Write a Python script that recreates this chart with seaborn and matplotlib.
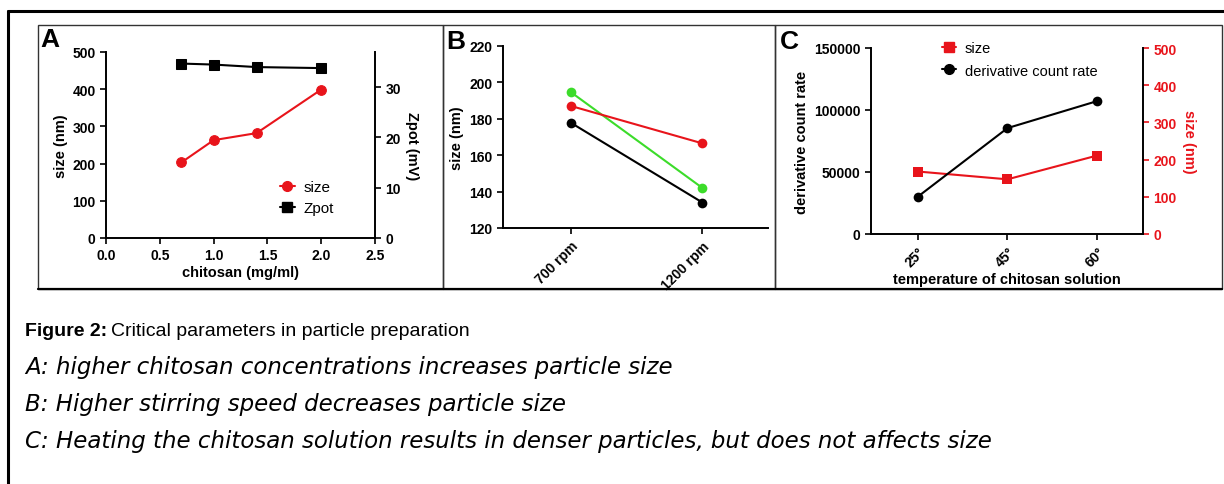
import numpy as np
import pandas as pd
import matplotlib
matplotlib.use("Agg")
import matplotlib.pyplot as plt
import seaborn as sns
from matplotlib.patches import Rectangle
from matplotlib.lines import Line2D

# ---------------- data ----------------
# A: chitosan concentration
chitosan = [0.7, 1.0, 1.4, 2.0]
size_a = [203, 263, 282, 399]
zpot_a = [34.7, 34.5, 34.0, 33.8]

# B: stirring speed
speeds = ["700 rpm", "1200 rpm"]
size_b_green = [194.5, 142]
size_b_red = [187, 166.5]
size_b_black = [177.7, 134]

# C: temperature
temps = ["25°", "45°", "60°"]
count_rate_c = [30000, 85400, 107200]
size_c = [168, 147, 211]

RED = "#e8141b"
GREEN = "#3cdc2a"

W, H = 1224, 485

def fx(px):
    return px / W

def fy(py):
    return 1 - py / H

sns.set_style("ticks")
plt.rcParams["font.family"] = ["Liberation Sans", "DejaVu Sans"]
plt.rcParams["font.weight"] = "bold"
plt.rcParams["axes.labelweight"] = "bold"
plt.rcParams["text.color"] = "black"
plt.rcParams["axes.labelcolor"] = "black"
plt.rcParams["axes.edgecolor"] = "black"
plt.rcParams["xtick.color"] = "black"
plt.rcParams["ytick.color"] = "black"
plt.rcParams["xtick.labelsize"] = 10
plt.rcParams["ytick.labelsize"] = 10
plt.rcParams["axes.labelsize"] = 10.5
plt.rcParams["axes.linewidth"] = 1.4
plt.rcParams["xtick.major.width"] = 1.2
plt.rcParams["ytick.major.width"] = 1.2
plt.rcParams["xtick.major.size"] = 4
plt.rcParams["ytick.major.size"] = 4

fig = plt.figure(figsize=(W / 100, H / 100), dpi=100)

# outer frame lines (table borders)
fig.add_artist(Line2D([fx(8), 1], [fy(12), fy(12)], color="black", lw=2.2, transform=fig.transFigure))
fig.add_artist(Line2D([fx(8), fx(8)], [fy(12), 0], color="black", lw=2.2, transform=fig.transFigure))

# panel boxes
for x0, x1 in [(38, 443), (443, 775), (775, 1222)]:
    fig.add_artist(Rectangle((fx(x0), fy(290)), fx(x1) - fx(x0), fy(26) - fy(290),
                             fill=False, edgecolor="#333333", lw=1.0, transform=fig.transFigure))
fig.add_artist(Line2D([fx(38), fx(1222)], [fy(290), fy(290)], color="black", lw=1.6, transform=fig.transFigure))

def tidy(ax):
    ax.spines["top"].set_visible(False)
    ax.spines["right"].set_visible(False)

# ---------------- panel A ----------------
axA = fig.add_axes([fx(106), fy(239), fx(375) - fx(106), fy(53) - fy(239)])
axA.set_facecolor("none")
dfA = pd.DataFrame({"chitosan": chitosan, "size": size_a, "zpot": zpot_a})
sns.lineplot(data=dfA, x="chitosan", y="size", ax=axA, color=RED, marker="o",
             markersize=7, markeredgecolor=RED, lw=1.5)
axA.set_xlim(0, 2.5)
axA.set_ylim(0, 500)
axA.set_xticks(np.arange(0, 2.51, 0.5))
axA.xaxis.set_major_formatter(matplotlib.ticker.FormatStrFormatter("%.1f"))
axA.set_xlabel("chitosan (mg/ml)", labelpad=2)
axA.set_ylabel("size (nm)", labelpad=3)
tidy(axA)
axA2 = axA.twinx()
sns.lineplot(data=dfA, x="chitosan", y="zpot", ax=axA2, color="black", marker="s",
             markersize=7, markeredgecolor="black", lw=1.5)
axA2.set_ylim(0, 37)
axA2.set_yticks([0, 10, 20, 30])
axA2.set_ylabel("Zpot (mV)", rotation=270, labelpad=13)
axA2.spines["top"].set_visible(False)
axA2.spines["left"].set_visible(False)
axA2.spines["bottom"].set_visible(False)
hA = [Line2D([], [], color=RED, marker="o", markersize=7, lw=1.5),
      Line2D([], [], color="black", marker="s", markersize=7, lw=1.5)]
axA.legend(hA, ["size", "Zpot"], loc="upper left", bbox_to_anchor=(0.645, 0.31),
           frameon=False, prop={"weight": "normal", "size": 11}, handlelength=1.0,
           borderpad=0, borderaxespad=0, labelspacing=0.45, handletextpad=0.6)

# ---------------- panel B ----------------
axB = fig.add_axes([fx(503), fy(229), fx(768) - fx(503), fy(47) - fy(229)])
axB.set_facecolor("none")
dfB = pd.DataFrame({
    "speed": speeds * 3,
    "size": size_b_green + size_b_red + size_b_black,
    "series": ["g"] * 2 + ["r"] * 2 + ["k"] * 2,
})
sns.lineplot(data=dfB, x="speed", y="size", hue="series", ax=axB,
             palette={"g": GREEN, "r": RED, "k": "black"},
             hue_order=["g", "r", "k"], marker="o", markersize=7, markeredgewidth=0,
             lw=1.5, legend=False, sort=False)
axB.set_ylim(120, 220)
axB.set_yticks(np.arange(120, 221, 20))
axB.set_xlim(-0.52, 1.5)
axB.set_xlabel("")
axB.set_ylabel("size (nm)", labelpad=4)
plt.setp(axB.get_xticklabels(), rotation=45, ha="right", rotation_mode="anchor")
tidy(axB)

# ---------------- panel C ----------------
axC = fig.add_axes([fx(871), fy(235), fx(1143) - fx(871), fy(49) - fy(235)])
axC.set_facecolor("none")
dfC = pd.DataFrame({"temp": temps, "rate": count_rate_c, "size": size_c})
axC2 = axC.twinx()
sns.lineplot(data=dfC, x="temp", y="size", ax=axC2, color=RED, marker="s",
             markersize=7, markeredgewidth=0, lw=1.5, sort=False)
sns.lineplot(data=dfC, x="temp", y="rate", ax=axC, color="black", marker="o",
             markersize=7, markeredgewidth=0, lw=1.5, sort=False)
axC.set_zorder(axC2.get_zorder() + 1)
axC.set_ylim(0, 150000)
axC.set_yticks([0, 50000, 100000, 150000])
axC.set_xlim(-0.52, 2.51)
axC.set_xlabel("temperature of chitosan solution", labelpad=2)
axC.set_ylabel("derivative count rate", labelpad=4)
plt.setp(axC.get_xticklabels(), rotation=45, ha="right", rotation_mode="anchor")
tidy(axC)
axC2.set_ylim(0, 500)
axC2.set_yticks(np.arange(0, 501, 100))
axC2.tick_params(axis="y", colors=RED)
axC2.spines["right"].set_color("black")
axC2.spines["top"].set_visible(False)
axC2.spines["left"].set_visible(False)
axC2.spines["bottom"].set_visible(False)
axC2.set_ylabel("size (nm)", color=RED, rotation=270, labelpad=14)
hC = [Line2D([], [], color=RED, marker="s", markersize=7, lw=1.5),
      Line2D([], [], color="black", marker="o", markersize=7, lw=1.5)]
axC.legend(hC, ["size", "derivative count rate"], loc="upper left",
           bbox_to_anchor=(0.26, 1.035), frameon=False,
           prop={"weight": "normal", "size": 10.5},
           handlelength=1.0, borderpad=0, borderaxespad=0,
           labelspacing=0.55, handletextpad=0.6)

# panel letters
for lab, px, py in [("A", 40, 40), ("B", 446, 42), ("C", 780, 42)]:
    fig.text(fx(px), fy(py), lab, fontsize=19, fontweight="bold", va="center", ha="left")

# caption
fig.text(fx(25), fy(331), "Figure 2:", fontsize=14, fontweight="bold", va="center", ha="left")
fig.text(fx(111), fy(331), "Critical parameters in particle preparation", fontsize=14,
         fontweight="normal", va="center", ha="left")
captions = [
    "A: higher chitosan concentrations increases particle size",
    "B: Higher stirring speed decreases particle size",
    "C: Heating the chitosan solution results in denser particles, but does not affects size",
]
for i, c in enumerate(captions):
    fig.text(fx(25), fy(368 + 37 * i), c, fontsize=16.5, fontstyle="italic",
             fontweight="normal", va="center", ha="left",
             family=["DejaVu Sans"])

fig.savefig("out.png", dpi=100)
